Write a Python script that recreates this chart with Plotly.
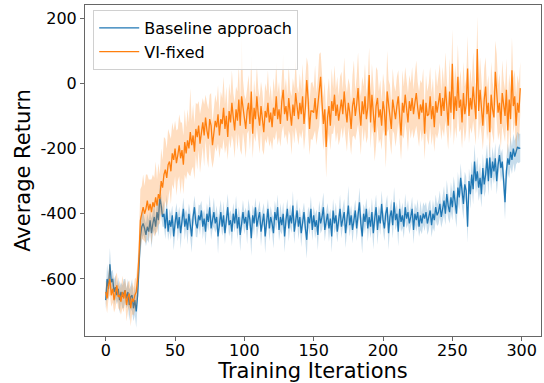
import numpy as np
import plotly.graph_objects as go

iterations = list(range(300))

baseline_mean = [
    -665, -600, -630, -555, -610, -600, -640, -625, -650, -630,
    -665, -640, -655, -645, -635, -660, -640, -680, -655, -650,
    -690, -665, -700, -650, -560, -470, -440, -430, -445, -465,
    -440, -455, -420, -460, -430, -410, -440, -395, -420, -350,
    -375, -410, -400, -445, -385, -455, -420, -440, -405, -470,
    -430, -395, -445, -410, -460, -420, -385, -440, -415, -450,
    -400, -435, -470, -410, -380, -430, -445, -405, -420, -390,
    -440, -415, -455, -400, -425, -380, -445, -420, -395, -430,
    -410, -470, -420, -395, -440, -405, -460, -415, -380, -435,
    -420, -455, -400, -430, -385, -445, -410, -465, -425, -395,
    -430, -410, -450, -390, -420, -475, -405, -430, -380, -440,
    -415, -395, -455, -420, -400, -470, -425, -385, -445, -410,
    -430, -460, -395, -420, -380, -450, -410, -435, -400, -470,
    -420, -385, -445, -405, -430, -375, -455, -415, -390, -440,
    -410, -460, -420, -395, -445, -480, -410, -430, -385, -450,
    -405, -440, -420, -465, -395, -430, -410, -380, -450, -420,
    -400, -445, -415, -470, -390, -430, -405, -455, -420, -385,
    -440, -410, -395, -460, -420, -375, -435, -405, -450, -415,
    -390, -445, -410, -365, -430, -470, -400, -425, -385, -445,
    -410, -440, -395, -460, -415, -380, -450, -405, -430, -370,
    -420, -445, -400, -380, -460, -410, -390, -435, -365, -420,
    -400, -455, -385, -425, -405, -440, -380, -415, -395, -430,
    -410, -385, -450, -400, -420, -395, -440, -405, -430, -400,
    -415, -395, -430, -410, -390, -435, -400, -420, -380, -405,
    -395, -370, -410, -385, -360, -400, -340, -375, -395, -350,
    -380, -330, -365, -400, -320, -350, -290, -340, -370, -310,
    -330, -440, -300, -340, -280, -325, -240, -300, -270, -320,
    -290, -340, -260, -310, -280, -230, -300, -228, -290, -240,
    -270, -230, -300, -250, -220, -260, -240, -300, -365, -270,
    -230, -250, -210, -235, -200, -225, -205, -195, -200, -198,
]

baseline_std = [
    28, 45, 35, 50, 32, 28, 40, 35, 28, 35,
    40, 30, 35, 45, 35, 30, 40, 48, 35, 50,
    40, 45, 50, 40, 50, 55, 45, 35, 30, 35,
    40, 35, 28, 45, 35, 40, 30, 35, 50, 40,
    35, 30, 40, 33, 45, 28, 35, 40, 30, 43,
    33, 28, 40, 31, 48, 30, 35, 41, 29, 45,
    31, 37, 50, 29, 35, 41, 28, 33, 45, 30,
    39, 29, 43, 33, 28, 40, 35, 31, 45, 29,
    35, 53, 30, 37, 28, 43, 33, 29, 41, 35,
    30, 45, 33, 28, 40, 35, 31, 50, 29, 37,
    33, 29, 43, 35, 30, 55, 32, 37, 29, 41,
    31, 35, 45, 29, 33, 51, 35, 30, 40, 33,
    29, 47, 35, 31, 39, 33, 43, 29, 35, 49,
    33, 30, 41, 35, 29, 45, 37, 31, 35, 40,
    30, 43, 33, 29, 41, 57, 31, 35, 39, 33,
    29, 37, 33, 47, 35, 31, 40, 45, 35, 29,
    33, 41, 30, 49, 35, 31, 39, 33, 29, 43,
    35, 30, 40, 45, 33, 60, 35, 31, 41, 29,
    33, 39, 31, 45, 35, 53, 30, 37, 33, 41,
    31, 35, 43, 49, 33, 39, 45, 30, 35, 41,
    33, 39, 31, 37, 51, 33, 35, 41, 47, 31,
    35, 45, 33, 31, 39, 35, 41, 30, 37, 33,
    31, 37, 43, 33, 35, 39, 31, 45, 33, 35,
    39, 31, 35, 41, 33, 37, 43, 35, 39, 33,
    37, 41, 33, 39, 45, 35, 43, 39, 35, 47,
    41, 45, 35, 43, 49, 37, 45, 41, 47, 39,
    43, 50, 39, 45, 41, 47, 53, 39, 45, 41,
    47, 41, 45, 39, 51, 43, 45, 49, 41, 45,
    39, 47, 41, 45, 35, 43, 39, 47, 53, 41,
    45, 41, 47, 43, 45, 49, 43, 47, 45, 43,
]

vi_mean = [
    -640, -660, -620, -600, -650, -630, -665, -640, -620, -655,
    -650, -670, -640, -660, -635, -680, -655, -645, -690, -660,
    -670, -650, -640, -600, -530, -420, -395, -380, -400, -385,
    -360, -390, -370, -395, -365, -380, -350, -375, -340, -355,
    -300, -320, -280, -265, -290, -250, -240, -270, -215, -235,
    -200, -245, -220, -190, -230, -205, -250, -180, -215, -175,
    -200, -150, -190, -160, -210, -140, -165, -130, -185, -150,
    -120, -160, -105, -145, -170, -110, -130, -190, -150, -115,
    -135, -95, -160, -110, -125, -75, -140, -100, -165, -85,
    -120, -60, -105, -145, -80, -115, -50, -130, -40, -70,
    -110, -140, -85, -60, -125, -25, -155, -75, -110, -40,
    -95, -130, -70, -115, -150, -85, -105, -60, -120, -90,
    -135, -75, -100, -40, -110, -80, -125, -55, -20, -95,
    -70, -115, -45, -90, -130, -65, -100, -30, -85, -110,
    -60, -95, -40, -125, -75, 10, -50, -140, -85, -85,
    -90, -45, -110, -70, -20, 20, -60, -125, -80, -195,
    -105, -70, -130, -55, -85, -35, -100, -65, -115, -75,
    -50, -95, -25, -80, -120, -60, -90, -140, -70, -45,
    -100, -65, -15, -85, -130, -55, -95, -40, -110, -75,
    25, -120, -35, -90, -150, -70, -45, -105, -80, -130,
    -55, -85, -160, -25, -65, -95, -140, -50, -80, -110,
    -70, -40, -100, -160, -60, -90, -35, -75, -120, -55,
    -85, -45, -95, -60, -30, -75, -110, -65, -90, -50,
    -155, -60, -100, -95, -40, -110, -70, -135, -55, -90,
    -65, -30, -100, -45, -85, -10, -70, -130, -25, -90,
    60, -110, -40, -85, 20, -75, -50, -120, -30, -95,
    -65, 45, -100, -45, -80, -10, -60, -110, 105, -85,
    -20, -70, -130, -50, -10, -95, -60, -150, -35, -80,
    -105, 35, -15, -90, -60, -125, -30, -75, -100, -20,
    -145, -50, -110, 40, -70, -40, -130, -60, -90, -15,
]

vi_std = [
    35, 45, 40, 50, 35, 42, 38, 50, 40, 35,
    45, 40, 50, 42, 38, 50, 45, 40, 55, 48,
    42, 50, 45, 55, 70, 95, 80, 100, 85, 105,
    80, 95, 75, 100, 85, 90, 110, 80, 95, 75,
    100, 85, 115, 95, 90, 110, 85, 100, 95, 90,
    85, 100, 80, 95, 110, 85, 90, 100, 80, 95,
    80, 135, 75, 95, 85, 80, 100, 75, 90, 85,
    75, 95, 70, 85, 90, 75, 100, 70, 85, 80,
    75, 90, 70, 85, 80, 95, 75, 90, 70, 85,
    80, 100, 75, 85, 70, 90, 105, 75, 180, 80,
    75, 90, 70, 85, 80, 110, 75, 85, 70, 95,
    80, 85, 75, 90, 70, 85, 80, 100, 75, 85,
    70, 90, 75, 105, 80, 85, 70, 95, 110, 75,
    85, 75, 100, 70, 90, 80, 85, 105, 75, 80,
    90, 75, 100, 80, 85, 70, 105, 80, 85, 90,
    75, 100, 80, 85, 110, 75, 90, 80, 85, 95,
    80, 85, 75, 100, 70, 90, 80, 85, 75, 95,
    85, 75, 105, 80, 90, 75, 85, 80, 95, 115,
    75, 85, 110, 80, 90, 75, 85, 100, 75, 90,
    85, 80, 95, 75, 90, 120, 85, 80, 90, 75,
    85, 80, 100, 125, 75, 90, 80, 95, 75, 85,
    90, 80, 85, 75, 100, 80, 85, 75, 90, 80,
    85, 95, 75, 90, 100, 80, 85, 75, 90, 95,
    80, 85, 75, 95, 90, 80, 85, 75, 100, 80,
    85, 90, 75, 95, 80, 105, 85, 75, 100, 80,
    105, 80, 95, 85, 100, 75, 90, 80, 95, 85,
    80, 100, 85, 90, 75, 105, 85, 80, 100, 90,
    100, 85, 75, 95, 90, 80, 85, 75, 100, 85,
    80, 95, 105, 85, 90, 75, 100, 85, 80, 95,
    85, 80, 90, 100, 85, 80, 95, 85, 90, 80,
]

x_ticks = [0, 50, 100, 150, 200, 250, 300]
y_ticks = [-600, -400, -200, 0, 200]
y_tick_labels = ["-600", "-400", "-200", "0", "200"]

series = [
    ("Baseline approach", baseline_mean, baseline_std, "#1f77b4", "rgba(31,119,180,0.25)"),
    ("VI-fixed", vi_mean, vi_std, "#ff7f0e", "rgba(255,127,14,0.26)"),
]

FONT = "DejaVu Sans"
fig = go.Figure()
x = np.array(iterations)
for name, mean, std, color, fillc in series:
    m = np.array(mean, dtype=float)
    s = np.array(std, dtype=float)
    fig.add_trace(go.Scatter(
        x=np.concatenate([x, x[::-1]]),
        y=np.concatenate([m + s, (m - s)[::-1]]),
        fill="toself", fillcolor=fillc, line=dict(width=0),
        hoverinfo="skip", showlegend=False, mode="lines",
    ))
    fig.add_trace(go.Scatter(
        x=x, y=m, mode="lines", name=name,
        line=dict(color=color, width=1.3),
    ))

axis_common = dict(
    showgrid=False, zeroline=False, showline=True, linecolor="#666666",
    linewidth=1, mirror=True, ticks="outside", ticklen=4, tickcolor="#666666",
    tickfont=dict(family=FONT, size=16, color="black"), automargin=False,
)

fig.update_layout(
    width=544, height=383,
    margin=dict(l=85, r=3, t=5, b=47),
    paper_bgcolor="white", plot_bgcolor="white",
    font=dict(family=FONT, color="black"),
    xaxis=dict(
        range=[-14.95, 313.95], tickvals=x_ticks, ticklabelstandoff=-4,
        title=dict(text="Training Iterations", font=dict(family=FONT, size=21), standoff=11),
        **axis_common,
    ),
    yaxis=dict(
        range=[-775, 240], tickvals=y_ticks, ticktext=y_tick_labels,
        title=dict(text="Average Return", font=dict(family=FONT, size=21), standoff=4),
        **axis_common,
    ),
    legend=dict(
        x=0.018, y=0.985, xanchor="left", yanchor="top",
        bgcolor="rgba(255,255,255,0.8)", bordercolor="#d0d0d0", borderwidth=1,
        font=dict(family=FONT, size=16, color="black"),
        tracegroupgap=0, itemwidth=40,
    ),
)

fig.write_html("out.html")
